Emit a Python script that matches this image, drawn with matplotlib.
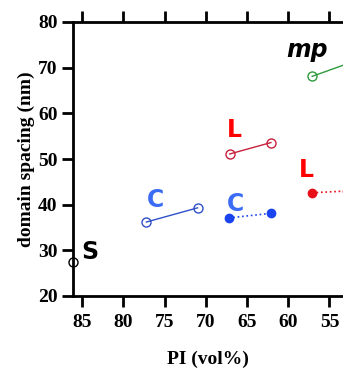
# ============================================================
# Domain spacing vs PI content
# ============================================================

import matplotlib
matplotlib.use("Agg")
import matplotlib.pyplot as plt

# ==========================
# Data
# ==========================
s_pi = [86.1]
s_d = [27.5]

c_open_pi = [77.2, 71.0]
c_open_d = [36.2, 39.3]

c_fill_pi = [67.2, 62.1]
c_fill_d = [37.1, 38.1]

l_open_pi = [67.1, 62.1]
l_open_d = [51.1, 53.6]

l_fill_pi = [57.1, 52.9]
l_fill_d = [42.6, 43.0]

mp_pi = [57.1, 52.0]
mp_d = [68.1, 71.4]

x_ticks = [85, 80, 75, 70, 65, 60, 55]
y_ticks = [20, 30, 40, 50, 60, 70, 80]

# ============================================================
# Figure
# ============================================================

plt.rcParams["font.family"] = ["Liberation Serif", "DejaVu Serif"]

fig = plt.figure(figsize=(3.43, 3.69), dpi=100)
ax = fig.add_axes([73 / 343, 1 - 296 / 369, 1 - 73 / 343, (296 - 22) / 369])

ax.plot(s_pi, s_d, "o", mfc="none", mec="black", ms=6.5, mew=1, clip_on=False)

ax.plot(c_open_pi, c_open_d, "-o", color="#3050c8", mfc="none", mec="#3050c8",
        ms=6.5, mew=1, lw=1)
ax.plot(c_fill_pi, c_fill_d, ":o", color="#1a44ee", mfc="#1a44ee", mec="#1a44ee",
        ms=6, lw=1.2)

ax.plot(l_open_pi, l_open_d, "-o", color="#c8203c", mfc="none", mec="#c8203c",
        ms=6.5, mew=1, lw=1)
ax.plot(l_fill_pi, l_fill_d, ":o", color="#e81018", mfc="#e81018", mec="#e81018",
        ms=6, lw=1.2)

ax.plot(mp_pi, mp_d, "-o", color="#2e9a3c", mfc="none", mec="#2e9a3c",
        ms=6.5, mew=1, lw=1)

# ==========================
# Phase labels
# ==========================
lab = dict(fontfamily="DejaVu Sans", fontweight="bold", fontsize=17,
           ha="left", va="center_baseline")
ax.text(85.1, 30.2, "S", color="black", **lab)
ax.text(77.1, 41.5, "C", color="#3a6cf4", **lab)
ax.text(67.5, 40.8, "C", color="#3a6cf4", **lab)
ax.text(67.5, 56.8, "L", color="#ff0000", **lab)
ax.text(58.7, 48.1, "L", color="#ff0000", **lab)
ax.text(60.3, 74.5, "mp", color="black", fontfamily="DejaVu Sans",
        fontweight="bold", fontstyle="italic", fontsize=17, ha="left",
        va="center_baseline")

# ==========================
# Axes styling
# ==========================
ax.set_xlim(86.1, 53.36)
ax.set_ylim(20, 80)
ax.set_xticks(x_ticks)
ax.set_yticks(y_ticks)

ax.spines["right"].set_visible(False)
for side in ["left", "bottom", "top"]:
    ax.spines[side].set_linewidth(2)

ax.tick_params(axis="both", direction="out", length=8, width=2,
               labelsize=14, pad=3)
ax.tick_params(axis="x", top=True, labeltop=False, pad=5)
for t in ax.get_xticklabels() + ax.get_yticklabels():
    t.set_fontweight("bold")

ax.set_xlabel("PI (vol%)", fontsize=14, fontweight="bold", labelpad=14)
ax.set_ylabel("domain spacing (nm)", fontsize=14, fontweight="bold", labelpad=2)

plt.savefig("out.png", dpi=100)
